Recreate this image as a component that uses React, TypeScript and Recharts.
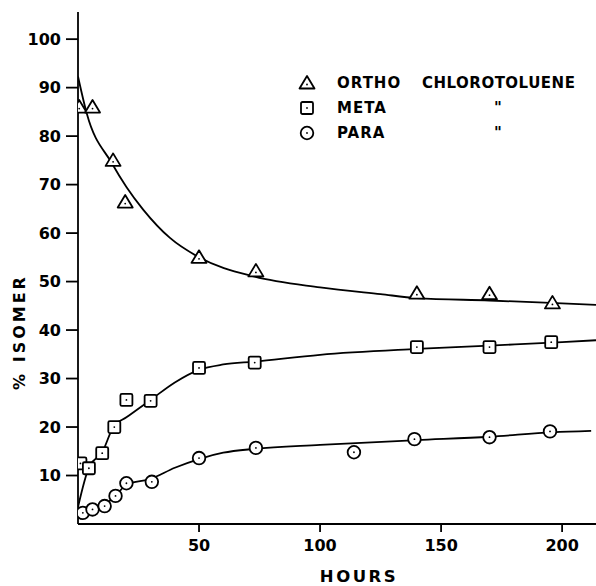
import React from 'react';
import { ComposedChart, Line, Scatter, XAxis, YAxis, Label } from 'recharts';

// measured points (hours, % isomer)
const orthoPoints = [
  { h: 0.5, v: 86 }, { h: 6, v: 86 }, { h: 14.5, v: 75 }, { h: 19.5, v: 66.4 },
  { h: 50, v: 55 }, { h: 73.5, v: 52.2 }, { h: 140, v: 47.6 }, { h: 170, v: 47.5 }, { h: 196, v: 45.6 },
];
const metaPoints = [
  { h: 1, v: 12.5 }, { h: 4.5, v: 11.5 }, { h: 10, v: 14.6 }, { h: 15, v: 20 }, { h: 20, v: 25.6 },
  { h: 30, v: 25.4 }, { h: 50, v: 32.2 }, { h: 73, v: 33.3 }, { h: 140, v: 36.5 }, { h: 170, v: 36.5 }, { h: 195.5, v: 37.5 },
];
const paraPoints = [
  { h: 2, v: 2.3 }, { h: 6, v: 3 }, { h: 11, v: 3.7 }, { h: 15.5, v: 5.8 }, { h: 20, v: 8.4 },
  { h: 30.5, v: 8.7 }, { h: 50, v: 13.6 }, { h: 73.5, v: 15.7 }, { h: 114, v: 14.8 },
  { h: 139, v: 17.5 }, { h: 170, v: 17.9 }, { h: 195, v: 19.1 },
];

// hand-drawn fitted curves
const orthoCurve = [
  { h: 0, v: 92.3 }, { h: 3.6, v: 84.7 }, { h: 14, v: 74.4 }, { h: 20, v: 69.5 },
  { h: 27, v: 64.8 }, { h: 38, v: 59 }, { h: 50, v: 55 }, { h: 73, v: 51 }, { h: 100, v: 48.8 },
  { h: 125, v: 47.4 }, { h: 140, v: 46.6 }, { h: 170, v: 46.1 }, { h: 200, v: 45.5 }, { h: 214, v: 45.2 },
];
const metaCurve = [
  { h: 0, v: 3.5 }, { h: 4.6, v: 11.8 }, { h: 10, v: 14.8 }, { h: 14.6, v: 20 }, { h: 20, v: 22 },
  { h: 30, v: 25.6 }, { h: 40, v: 29.2 }, { h: 50, v: 31.8 }, { h: 60, v: 32.9 }, { h: 73, v: 33.5 },
  { h: 100, v: 34.9 }, { h: 140, v: 36.1 }, { h: 170, v: 36.8 }, { h: 200, v: 37.5 }, { h: 214, v: 37.9 },
];
const paraCurve = [
  { h: 2, v: 2.3 }, { h: 6, v: 3 }, { h: 11, v: 4 }, { h: 15.5, v: 5.8 }, { h: 20, v: 8.1 },
  { h: 30, v: 9.3 }, { h: 40, v: 11.6 }, { h: 50, v: 13.4 }, { h: 60, v: 14.7 }, { h: 73, v: 15.5 },
  { h: 100, v: 16.3 }, { h: 140, v: 17.3 }, { h: 170, v: 18 }, { h: 196, v: 18.9 }, { h: 212, v: 19.2 },
];

const xTicks = [50, 100, 150, 200];
const yTicks = [10, 20, 30, 40, 50, 60, 70, 80, 90, 100];

const legendRows = [
  { key: 'ortho', name: 'ORTHO', note: 'CHLOROTOLUENE' },
  { key: 'meta', name: 'META', note: '"' },
  { key: 'para', name: 'PARA', note: '"' },
];

const font = 'DejaVu Sans, sans-serif';
const sw = 1.8;

const Tri = (props: any) => {
  const { cx, cy } = props;
  return (
    <g>
      <polygon points={`${cx},${cy - 7} ${cx - 7.5},${cy + 5.5} ${cx + 7.5},${cy + 5.5}`} fill="#fff" stroke="#000" strokeWidth={sw} strokeLinejoin="round" />
      <circle cx={cx} cy={cy + 1.5} r={0.9} fill="#000" />
    </g>
  );
};
const Sq = (props: any) => {
  const { cx, cy } = props;
  return (
    <g>
      <rect x={cx - 6} y={cy - 6} width={12} height={12} rx={1.5} fill="#fff" stroke="#000" strokeWidth={sw} />
      <circle cx={cx} cy={cy} r={0.9} fill="#000" />
    </g>
  );
};
const Circ = (props: any) => {
  const { cx, cy } = props;
  return (
    <g>
      <circle cx={cx} cy={cy} r={6.3} fill="#fff" stroke="#000" strokeWidth={sw} />
      <circle cx={cx} cy={cy} r={0.9} fill="#000" />
    </g>
  );
};

const markers: Record<string, any> = { ortho: Tri, meta: Sq, para: Circ };

const LegendBox = () => (
  <div style={{ position: 'absolute', left: 298, top: 71, width: 290, fontFamily: font, fontWeight: 'bold', fontSize: 15, color: '#000' }}>
    {legendRows.map((r) => {
      const M = markers[r.key];
      return (
        <div key={r.key} style={{ position: 'relative', height: 25 }}>
          <svg width={18} height={18} style={{ position: 'absolute', left: 0, top: 3 }}>
            <M cx={9} cy={9} />
          </svg>
          <span style={{ position: 'absolute', left: 39, top: 3, letterSpacing: 1 }}>{r.name}</span>
          <span style={{ position: 'absolute', left: r.key === 'ortho' ? 124 : 196, top: 3, letterSpacing: 0.5 }}>{r.note}</span>
        </div>
      );
    })}
  </div>
);

const YTitle = (props: any) => {
  const { viewBox } = props;
  const x = viewBox.x + 19;
  const y = viewBox.y + viewBox.height * 0.625;
  return (
    <text x={x} y={y} transform={`rotate(-90 ${x} ${y})`} textAnchor="middle" dominantBaseline="central"
      style={{ fill: '#000', fontFamily: font, fontWeight: 'bold', fontSize: 16, letterSpacing: 3 }}>
      %  ISOMER
    </text>
  );
};

const XTitle = (props: any) => {
  const { viewBox } = props;
  const x = viewBox.x + viewBox.width / 2 + 22;
  const y = viewBox.y + viewBox.height - 4;
  return (
    <text x={x} y={y} textAnchor="middle"
      style={{ fill: '#000', fontFamily: font, fontWeight: 'bold', fontSize: 16.5, letterSpacing: 2.5 }}>
      HOURS
    </text>
  );
};

const App = () => {
  return (
    <div style={{ position: 'absolute', left: 0, top: 0, width: 596, height: 586, background: '#fff' }}>
      <ComposedChart width={596} height={586} margin={{ top: 12, right: 0, bottom: 0, left: 0 }}>
        <XAxis
          type="number"
          dataKey="h"
          domain={[0, 214]}
          ticks={xTicks}
          allowDataOverflow
          height={62}
          tickSize={8}
          tickMargin={8}
          stroke="#000"
          strokeWidth={1.8}
          tick={{ fill: '#000', fontFamily: font, fontWeight: 'bold', fontSize: 16 }}
        >
          <Label content={<XTitle />} />
        </XAxis>
        <YAxis
          type="number"
          dataKey="v"
          domain={[0, 105.6]}
          ticks={yTicks}
          allowDataOverflow
          width={78}
          tickSize={12}
          tickMargin={5}
          stroke="#000"
          strokeWidth={1.8}
          tick={{ fill: '#000', fontFamily: font, fontWeight: 'bold', fontSize: 16 }}
        >
          <Label content={<YTitle />} />
        </YAxis>
        <Line data={orthoCurve} dataKey="v" type="monotone" stroke="#000" strokeWidth={1.8} dot={false} isAnimationActive={false} />
        <Line data={metaCurve} dataKey="v" type="monotone" stroke="#000" strokeWidth={1.8} dot={false} isAnimationActive={false} />
        <Line data={paraCurve} dataKey="v" type="monotone" stroke="#000" strokeWidth={1.8} dot={false} isAnimationActive={false} />
        <Scatter data={orthoPoints} dataKey="v" shape={<Tri />} isAnimationActive={false} />
        <Scatter data={metaPoints} dataKey="v" shape={<Sq />} isAnimationActive={false} />
        <Scatter data={paraPoints} dataKey="v" shape={<Circ />} isAnimationActive={false} />
      </ComposedChart>
      <LegendBox />
    </div>
  );
};

export default App;
